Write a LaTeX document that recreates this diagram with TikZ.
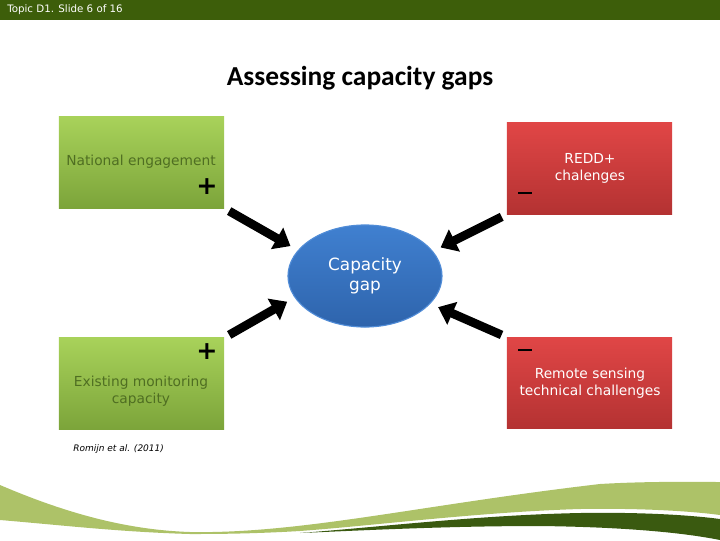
\documentclass[tikz,border=0pt]{standalone}
\usepackage{fontspec}
\setmainfont{DejaVu Sans}
\newfontfamily\titlefont{Carlito}
\usetikzlibrary{shapes.geometric, arrows.meta}
\definecolor{bargreen}{HTML}{3D5E0A}
\definecolor{wavelight}{HTML}{ADC268}
\definecolor{wavedark}{HTML}{3A5A10}
\definecolor{boxtext}{HTML}{4F6E22}
\tikzset{
    gainbox/.style={inner sep=0pt, minimum width=4.125cm, minimum height=2.275cm, top color={rgb,255:red,168;green,210;blue,90}, bottom color={rgb,255:red,124;green,164;blue,58}, draw=none},
    lossbox/.style={inner sep=0pt, minimum width=4.125cm, minimum height=2.275cm, top color={rgb,255:red,224;green,70;blue,70}, bottom color={rgb,255:red,180;green,50;blue,50}, draw=none},
    gap/.style={inner sep=0pt, ellipse, minimum width=3.85cm, minimum height=2.55cm, top color={rgb,255:red,64;green,128;blue,208}, bottom color={rgb,255:red,46;green,100;blue,172}, draw={rgb,255:red,80;green,140;blue,215}, line width=0.8pt},
    boxlabel/.style={inner sep=0pt, align=center, font=\fontsize{9.8}{12}\selectfont},
    sign/.style={inner sep=0pt, font=\fontsize{18}{18}\selectfont\bfseries},
    minus/.style={inner sep=0pt, fill=black, minimum width=0.35cm, minimum height=1.4pt},
    push/.style={line width=6.2pt, -{Triangle[length=11pt, width=17pt]}, shorten >=6pt, shorten <=4pt},
}
\begin{document}
\begin{tikzpicture}[x=0.025cm, y=-0.025cm]
    \useasboundingbox (0,0) rectangle (720,540);
    % top bar
    \fill[bargreen] (0,0) rectangle (720,20);
    \node[inner sep=0pt, anchor=west, text=white, font=\fontsize{7.3}{8}\selectfont] (slide) at (7,10) {Topic D1. Slide 6 of 16};
    \node[inner sep=0pt, font=\titlefont\fontsize{19.5}{22}\selectfont\bfseries] (title) at (360,78) {Assessing capacity gaps};
    % boxes
    \node[gainbox] (nat) at (141.5,162.5) {};
    \node[lossbox] (redd) at (589.5,168.5) {};
    \node[gainbox] (mon) at (141.5,383.5) {};
    \node[lossbox] (remote) at (589.5,383) {};
    \node[gap] (gap) at (365,276) {};
    % texts
    \node[boxlabel, text=boxtext] (natlabel) at (141,162) {National engagement};
    \node[boxlabel, text=white] (reddlabel) at (590,168.5) {REDD+\\chalenges};
    \node[boxlabel, text=boxtext] (monlabel) at (141,391.5) {Existing monitoring\\capacity};
    \node[boxlabel, text=white] (remotelabel) at (590,383.5) {Remote sensing\\technical challenges};
    \node[inner sep=0pt, align=center, text=white, font=\fontsize{12}{14.5}\selectfont] (gaplabel) at (365,276) {Capacity\\gap};
    \node[sign] (natsign) at (207,187) {+};
    \node[sign] (monsign) at (207,352) {+};
    \node[minus] (reddsign) at (525,193) {};
    \node[minus] (remotesign) at (525,350) {};
    \node[inner sep=0pt, anchor=west, font=\fontsize{6.4}{8}\selectfont\itshape] (source) at (73,449) {Romijn et al. (2011)};
    % arrows
    \draw[push] (nat.south east) -- (gap.159);
    \draw[push] (redd.south west) -- (gap.20);
    \draw[push] (mon.north east) -- (gap.197);
    \draw[push] (remote.north west) -- (gap.337);
    % waves
    \fill[wavelight] (0,485) .. controls (70,515) and (130,530) .. (190,532) .. controls (300,534) and (420,505) .. (600,484) .. controls (650,481) and (700,482) .. (720,482) -- (720,515) .. controls (690,511) and (640,508) .. (580,509) .. controls (480,512) and (380,525) .. (300,531) .. controls (250,534) and (210,534) .. (190,534) .. controls (120,532) and (60,525) .. (0,520) -- cycle;
    \fill[wavedark] (300,533) .. controls (380,527) and (480,515) .. (580,513) .. controls (640,512) and (690,515) .. (720,519) -- (720,540) .. controls (680,532) and (620,527) .. (540,526) .. controls (450,526) and (370,530) .. (300,533) -- cycle;
\end{tikzpicture}
\end{document}
